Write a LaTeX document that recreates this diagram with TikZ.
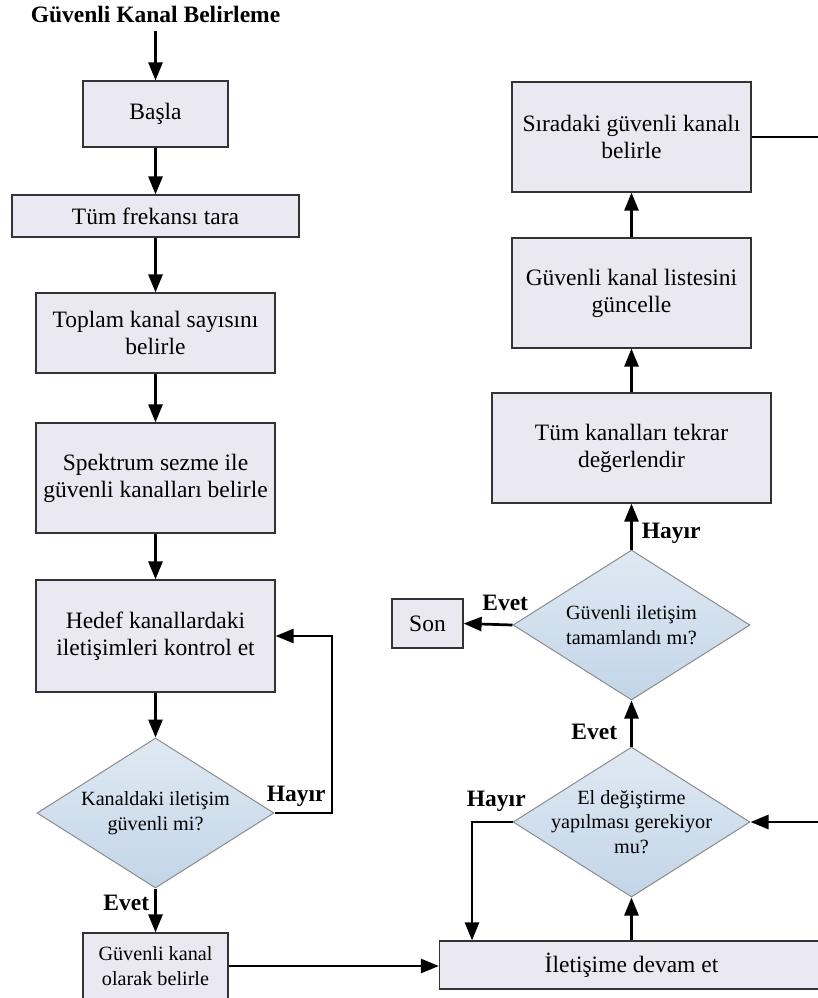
\documentclass[tikz,border=0pt]{standalone}
\usepackage{fontspec}
\setmainfont{Liberation Serif}
\usetikzlibrary{shapes.geometric,arrows.meta}

\definecolor{boxfill}{HTML}{EAE8F0}
\definecolor{dtop}{HTML}{E0E9F3}
\definecolor{dbot}{HTML}{C2D5E8}

\tikzset{
  box/.style={draw=black!80, line width=1.2pt, fill=boxfill, align=center,
    inner sep=0pt, font=\fontsize{23.5}{27}\selectfont},
  smallbox/.style={box, font=\fontsize{20.2}{24.5}\selectfont},
  decision/.style={diamond, draw=black!45, line width=1pt, top color=dtop,
    bottom color=dbot, inner sep=0pt, minimum width=237pt, minimum height=150pt},
  dtext/.style={align=center, font=\fontsize{20.2}{24.5}\selectfont},
  arr/.style={line width=2.7pt, -{Triangle[length=18pt,width=14pt]}},
  lbl/.style={inner sep=5pt, font=\fontsize{23.5}{27}\bfseries\selectfont}
}

\begin{document}
\begin{tikzpicture}[x=1pt, y=-1pt]
  \useasboundingbox (0,0) rectangle (818,998);
  \clip (0,0) rectangle (818,998);

  % sol sutun
  \node[anchor=base, lbl, inner sep=7.5pt] (title) at (155.5,23) {Güvenli Kanal Belirleme};
  \node[box, minimum width=145pt, minimum height=66pt] (start) at (155.5,114) {Başla};
  \node[box, minimum width=287pt, minimum height=42pt] (scan) at (155.5,216) {Tüm frekansı tara};
  \node[box, minimum width=239pt, minimum height=80pt] (count) at (155.5,333) {Toplam kanal sayısını\\belirle};
  \node[box, minimum width=239pt, minimum height=110pt] (sense) at (155.5,478) {Spektrum sezme ile\\güvenli kanalları belirle};
  \node[box, minimum width=239pt, minimum height=112pt] (check) at (155.5,636) {Hedef kanallardaki\\iletişimleri kontrol et};
  \node[decision, label={[dtext]center:{Kanaldaki iletişim\\güvenli mi?}}] (dec1) at (155.5,813) {};
  \node[smallbox, minimum width=145pt, minimum height=66pt] (mark) at (155.5,966) {Güvenli kanal\\olarak belirle};

  % sag sutun
  \node[box, minimum width=384pt, minimum height=48pt] (flow) at (631.5,965) {İletişime devam et};
  \node[decision, label={[dtext]center:{El değiştirme\\yapılması gerekiyor\\mu?}}] (dec2) at (631.5,822) {};
  \node[decision, label={[dtext]center:{Güvenli iletişim\\tamamlandı mı?}}] (dec3) at (631.5,625) {};
  \node[box, minimum width=71pt, minimum height=49pt] (son) at (427.5,623.5) {Son};
  \node[box, minimum width=279pt, minimum height=110pt] (eval) at (631.5,448) {Tüm kanalları tekrar\\değerlendir};
  \node[box, minimum width=239pt, minimum height=110pt] (update) at (631.5,293) {Güvenli kanal listesini\\güncelle};
  \node[box, minimum width=239pt, minimum height=110pt] (next) at (631.5,137) {Sıradaki güvenli kanalı\\belirle};

  \coordinate (loop) at (332,700);
  \coordinate (back) at (472,900);
  \coordinate (rail) at (840,500);

  \foreach \a/\b in {title/start, start/scan, scan/count, count/sense, sense/check,
      check/dec1, flow/dec2, eval/update, update/next}
    \draw[arr] (\a) -- (\b);

  \draw[arr] (dec1.east) -| node[lbl, above left, pos=0.5] {Hayır} (loop) |- (check.east);
  \draw[arr] (dec1.south) -- node[lbl, below left, pos=0] {Evet} (mark.north);
  \draw[arr] (mark.east) -- (mark.east -| flow.west);
  \draw[arr] (dec2.west) -| node[lbl, above=4pt, pos=0.2] {Hayır} (back |- flow.north);
  \draw[arr] (dec2.north) -- node[lbl, above left, pos=0, xshift=-8pt] {Evet} (dec3.south);
  \draw[arr] (dec3.west) -- node[lbl, above=8pt, pos=0.15] {Evet} (son.east);
  \draw[arr] (dec3.north) -- node[lbl, above right, pos=0, xshift=4pt] {Hayır} (eval.south);
  \draw[arr] (next.east) -| (rail) |- (dec2.east);

\end{tikzpicture}
\end{document}
